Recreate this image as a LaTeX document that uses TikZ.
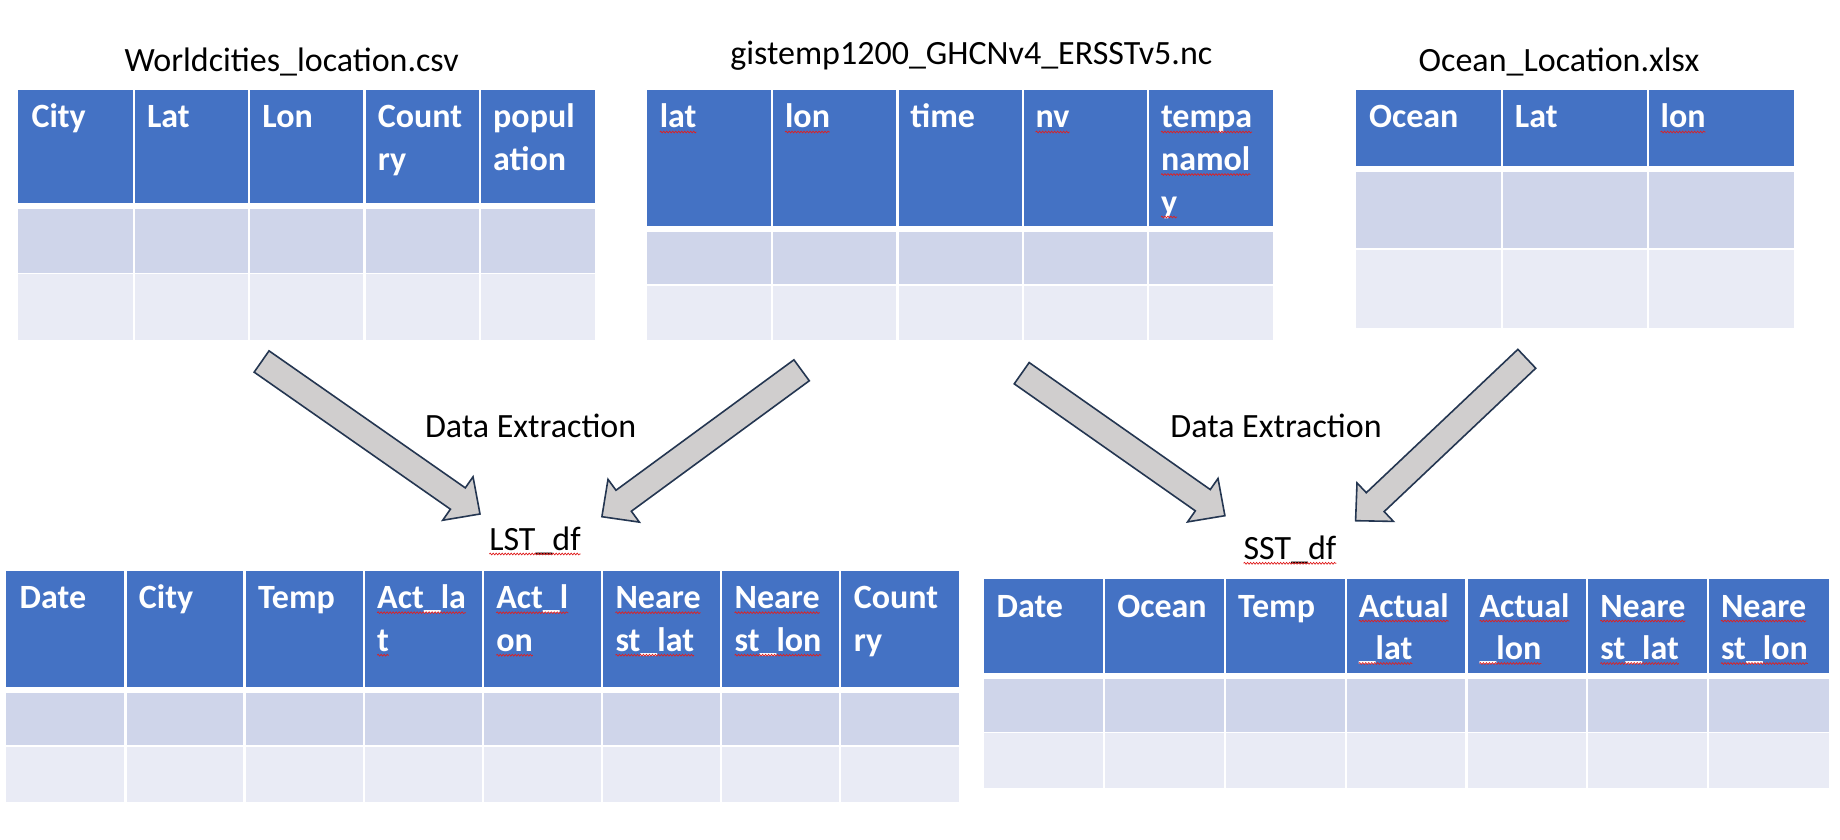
\documentclass[tikz,border=0pt]{standalone}
\usepackage{fontspec}
\setmainfont{Carlito}
\usetikzlibrary{calc,decorations.pathmorphing}
\definecolor{hdrblue}{HTML}{4472C4}
\definecolor{rowone}{HTML}{CFD5EA}
\definecolor{rowtwo}{HTML}{E9EBF5}
\definecolor{arrowgrey}{HTML}{D0CECE}
\definecolor{arrowline}{HTML}{243651}
\definecolor{squigred}{HTML}{E02020}
\newcommand\bigfont{\fontsize{34}{42.5}\selectfont}
\tikzset{
  hdrtxt/.style={anchor=base west, inner sep=0pt, outer sep=0pt, font=\bigfont\bfseries, text=white},
  titletxt/.style={anchor=base, inner sep=0pt, outer sep=0pt, font=\bigfont, text=black},
  labeltxt/.style={anchor=base west, inner sep=0pt, outer sep=0pt, font=\bigfont, text=black},
  sep/.style={draw=white, line width=2.2pt},
  squiggle/.style={draw=squigred, line width=0.7pt, decorate, decoration={snake, amplitude=0.9pt, segment length=3pt}},
  blockarrowstyle/.style={fill=arrowgrey, draw=arrowline, line width=1.6pt, line join=miter},
}
\newcommand\hcell[4]{\node[hdrtxt] (#1) at (#2,#3) {#4};}
\newcommand\squig[1]{\draw[squiggle] ([yshift=-4pt]#1.base west) -- ([yshift=-4pt]#1.base east);}
\newcommand\blockarrow[2]{%
  \path ($(#2)!27pt!(#1)$) coordinate (bab);
  \filldraw[blockarrowstyle] ($(#1)!13pt!90:(#2)$) -- ($(bab)!13pt!90:(#2)$) -- ($(bab)!26.5pt!90:(#2)$) -- (#2) -- ($(bab)!26.5pt!-90:(#2)$) -- ($(bab)!13pt!-90:(#2)$) -- ($(#1)!13pt!-90:(#2)$) -- cycle;}
\begin{document}
\begin{tikzpicture}[x=1pt,y=-1pt]
\useasboundingbox (0,0) rectangle (1840,840);
\fill[white] (0,0) rectangle (1840,840);

% ---------- Table A: Worldcities ----------
\fill[hdrblue] (18.2,90) rectangle (595.2,203);
\fill[rowone] (18.2,209) rectangle (595.2,272.7);
\fill[rowtwo] (18.2,274.3) rectangle (595.2,340);
\foreach \i in {1,...,4} {\draw[sep] ({18.2+\i*115.4},88) -- ({18.2+\i*115.4},342);}
\node[titletxt] (titleA) at (291.6,71.7) {Worldcities\_location.csv};
\hcell{a1}{31.6}{128}{City}
\hcell{a2}{147}{128}{Lat}
\hcell{a3}{262.4}{128}{Lon}
\hcell{a4}{377.8}{128}{Count}
\hcell{a4b}{377.8}{170.5}{ry}
\hcell{a5}{493.2}{128}{popul}
\hcell{a5b}{493.2}{170.5}{ation}

% ---------- Table B: gistemp ----------
\fill[hdrblue] (646.8,90) rectangle (1273.3,226);
\fill[rowone] (646.8,231.7) rectangle (1273.3,284);
\fill[rowtwo] (646.8,285.7) rectangle (1273.3,340);
\foreach \i in {1,...,4} {\draw[sep] ({646.8+\i*125.3},88) -- ({646.8+\i*125.3},342);}
\node[titletxt] (titleB) at (971.3,65) {gistemp1200\_GHCNv4\_ERSSTv5.nc};
\hcell{b1}{659.8}{128}{lat}
\hcell{b2}{785.1}{128}{lon}
\hcell{b3}{910.4}{128}{time}
\hcell{b4}{1035.7}{128}{nv}
\hcell{b5}{1161}{128}{tempa}
\hcell{b5b}{1161}{170.5}{namol}
\hcell{b5c}{1161}{213}{y}
\squig{b1}\squig{b2}\squig{b4}\squig{b5}\squig{b5b}\squig{b5c}

% ---------- Table C: Ocean ----------
\fill[hdrblue] (1356.1,90) rectangle (1793.5,166);
\fill[rowone] (1356.1,171.7) rectangle (1793.5,248.3);
\fill[rowtwo] (1356.1,250) rectangle (1793.5,327.7);
\foreach \i in {1,2} {\draw[sep] ({1356.1+\i*145.8},88) -- ({1356.1+\i*145.8},329.7);}
\node[titletxt] (titleC) at (1559,71.7) {Ocean\_Location.xlsx};
\hcell{c1}{1369.1}{128}{Ocean}
\hcell{c2}{1514.9}{128}{Lat}
\hcell{c3}{1660.7}{128}{lon}
\squig{c3}

% ---------- Table D: LST_df ----------
\fill[hdrblue] (6.25,570.7) rectangle (959.45,687.3);
\fill[rowone] (6.25,692.7) rectangle (959.45,745);
\fill[rowtwo] (6.25,746.7) rectangle (959.45,801.7);
\foreach \i in {1,...,7} {\draw[sep] ({6.25+\i*119.15},568.7) -- ({6.25+\i*119.15},803.7);}
\node[titletxt] (titleD) at (535,550) {LST\_df};
\squig{titleD}
\hcell{d1}{19.75}{608.7}{Date}
\hcell{d2}{138.9}{608.7}{City}
\hcell{d3}{258.05}{608.7}{Temp}
\hcell{d4}{377.2}{608.7}{Act\_la}
\hcell{d4b}{377.2}{651.2}{t}
\hcell{d5}{496.35}{608.7}{Act\_l}
\hcell{d5b}{496.35}{651.2}{on}
\hcell{d6}{615.5}{608.7}{Neare}
\hcell{d6b}{615.5}{651.2}{st\_lat}
\hcell{d7}{734.65}{608.7}{Neare}
\hcell{d7b}{734.65}{651.2}{st\_lon}
\hcell{d8}{853.8}{608.7}{Count}
\hcell{d8b}{853.8}{651.2}{ry}
\squig{d4}\squig{d4b}\squig{d5}\squig{d5b}\squig{d6}\squig{d6b}\squig{d7}\squig{d7b}

% ---------- Table E: SST_df ----------
\fill[hdrblue] (983.6,579) rectangle (1828.7,672.7);
\fill[rowone] (983.6,678.7) rectangle (1828.7,731.7);
\fill[rowtwo] (983.6,733.3) rectangle (1828.7,788.3);
\foreach \i in {1,...,6} {\draw[sep] ({983.6+\i*120.73},577) -- ({983.6+\i*120.73},790.3);}
\node[titletxt] (titleE) at (1290,559.3) {SST\_df};
\squig{titleE}
\hcell{e1}{996.6}{617}{Date}
\hcell{e2}{1117.3}{617}{Ocean}
\hcell{e3}{1238.1}{617}{Temp}
\hcell{e4}{1358.8}{617}{Actual}
\hcell{e4b}{1358.8}{659.5}{\_lat}
\hcell{e5}{1479.5}{617}{Actual}
\hcell{e5b}{1479.5}{659.5}{\_lon}
\hcell{e6}{1600.3}{617}{Neare}
\hcell{e6b}{1600.3}{659.5}{st\_lat}
\hcell{e7}{1721.0}{617}{Neare}
\hcell{e7b}{1721.0}{659.5}{st\_lon}
\squig{e4}\squig{e4b}\squig{e5}\squig{e5b}\squig{e6}\squig{e6b}\squig{e7}\squig{e7b}

% ---------- Labels ----------
\node[labeltxt] (extrA) at (425,437.3) {Data Extraction};
\node[labeltxt] (extrB) at (1170.4,437.3) {Data Extraction};

% ---------- Block arrows ----------
\coordinate (arrAtail) at (261.6,361.5);
\coordinate (arrAtip) at (480,514);
\coordinate (arrBtail) at (801.6,370.3);
\coordinate (arrBtip) at (601.9,516.7);
\coordinate (arrCtail) at (1021.7,373.2);
\coordinate (arrCtip) at (1224.9,515.7);
\coordinate (arrDtail) at (1526.8,358.8);
\coordinate (arrDtip) at (1355.6,520.7);
\blockarrow{arrAtail}{arrAtip}
\blockarrow{arrBtail}{arrBtip}
\blockarrow{arrCtail}{arrCtip}
\blockarrow{arrDtail}{arrDtip}
\end{tikzpicture}
\end{document}
